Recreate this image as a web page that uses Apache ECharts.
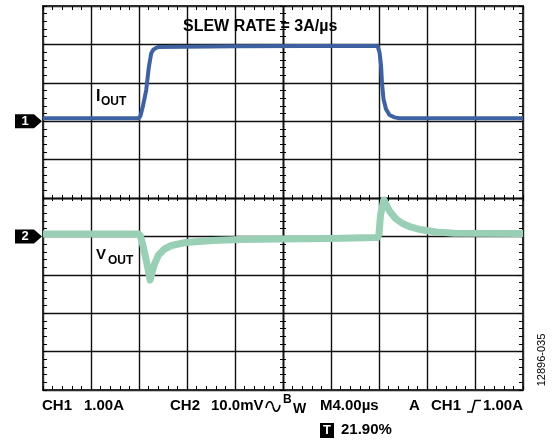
<!DOCTYPE html>
<html><head><meta charset="utf-8">
<script src="https://cdn.jsdelivr.net/npm/echarts@6/dist/echarts.min.js"></script>
<style>html,body{margin:0;padding:0;background:#fff;}#c{width:555px;height:442px;}</style>
</head><body><div id="c"></div>
<script>
// ---- data (time in µs relative to screen centre) ----
const iTimeUs = [-20, -16, -12.02, -11.875, -11.68, -11.4, -11.18, -10.98, -10.79, -10.43, -4, 2, 7.875, 8.04, 8.17, 8.25, 8.375, 8.58, 8.875, 9.29, 9.71, 14, 20];
const iAmps   = [0.075, 0.075, 0.075, 0.14, 0.38, 0.81, 1.41, 1.77, 1.87, 1.93, 1.95, 1.96, 1.96, 1.8, 1.46, 0.99, 0.58, 0.32, 0.16, 0.1, 0.075, 0.075, 0.075];
const vTimeUs = [-20, -16, -12.02, -11.875, -11.68, -11.4, -11.07, -10.92, -10.71, -10.375, -9.875, -9.29, -8.125, -5.875, -3.625, -0.29, 3.875, 7.875, 8.0, 8.125, 8.4, 8.54, 8.875, 9.375, 9.96, 10.625, 11.375, 12.79, 14.29, 20];
const vMilliV = [0.63, 0.6, 0.63, 0.1, -2.24, -6.15, -11.35, -9.5, -7.2, -4.84, -3.28, -2.37, -1.59, -1.07, -0.81, -0.68, -0.55, -0.29, 0.63, 5.57, 9.48, 8.7, 6.6, 4.66, 3.36, 2.45, 1.8, 1.15, 0.81, 0.76];
const ch1 = {offsetDiv: 2, perDiv: 1.0};    // A/div
const ch2 = {offsetDiv: -1, perDiv: 10.0};  // mV/div
const timeRange = [-20, 20], timePerDiv = 4;
const vertRange = [-5, 5];
const titleText = 'SLEW RATE = 3A/µs';
const statusTexts = ['CH1', '1.00A', 'CH2', '10.0mV', 'M4.00µs', 'A', 'CH1', '1.00A', '21.90%'];
const figId = '12896-035';

const FONT = '"Liberation Sans", Arial, sans-serif';
const chart = echarts.init(document.getElementById('c'), null, {renderer: 'canvas'});

const iData = iTimeUs.map((t, k) => [t, iAmps[k] / ch1.perDiv + ch1.offsetDiv]);
const vData = vTimeUs.map((t, k) => [t, vMilliV[k] / ch2.perDiv + ch2.offsetDiv]);

function base(isX) {
  return {type: 'value', min: isX ? timeRange[0] : vertRange[0], max: isX ? timeRange[1] : vertRange[1],
    interval: isX ? timePerDiv : 1, axisLabel: {show: false}, splitLine: {show: false}, minorSplitLine: {show: false}};
}
function borderAxis(isX, pos, split) {
  return Object.assign(base(isX), {position: pos,
    axisLine: {show: true, onZero: false, lineStyle: {color: '#2b2b2b', width: 2}},
    axisTick: {show: true, inside: true, length: 4, lineStyle: {color: '#000', width: 1}},
    minorTick: {show: true, splitNumber: 5, length: 4, lineStyle: {color: '#000', width: 1}},
    splitLine: {show: split, lineStyle: {color: '#111', width: 1.4}}});
}
function centerAxis(isX, pos, inside) {
  return Object.assign(base(isX), {position: pos,
    axisLine: {show: true, onZero: true, lineStyle: {color: '#111', width: 1.4}},
    axisTick: {show: true, inside: inside, length: 3, lineStyle: {color: '#000', width: 1}},
    minorTick: {show: true, splitNumber: 5, length: 3, lineStyle: {color: '#000', width: 1}}});
}

chart.setOption({
  animation: false,
  backgroundColor: '#fff',
  grid: {left: 43, top: 6, width: 480, height: 384, containLabel: false},
  xAxis: [borderAxis(true, 'bottom', true), borderAxis(true, 'top', false), centerAxis(true, 'bottom', true), centerAxis(true, 'top', true)],
  yAxis: [borderAxis(false, 'left', true), borderAxis(false, 'right', false), centerAxis(false, 'left', true), centerAxis(false, 'right', true)],
  series: [
    {type: 'line', name: 'VOUT', data: vData, showSymbol: false, symbol: 'none', z: 3,
      lineStyle: {color: '#98cfb5', width: 7, join: 'round'}},
    {type: 'line', name: 'IOUT', data: iData, showSymbol: false, symbol: 'none', z: 4,
      lineStyle: {color: '#3e61a2', width: 4, join: 'round'}}
  ]
});

const y1 = chart.convertToPixel({yAxisIndex: 0}, ch1.offsetDiv);
const y2 = chart.convertToPixel({yAxisIndex: 0}, ch2.offsetDiv);
function marker(y, label) {
  return [
    {type: 'polygon', shape: {points: [[15, y - 7], [34, y - 7], [42, y], [34, y + 7], [15, y + 7]]}, style: {fill: '#000'}, z: 10},
    {type: 'text', x: 25, y: y, z: 11, style: {text: label, fill: '#fff', fontFamily: FONT, fontWeight: 'bold', fontSize: 13, align: 'center', verticalAlign: 'middle'}}
  ];
}
function txt(x, y, s, size, extra) {
  return Object.assign({type: 'text', x: x, y: y, z: 10,
    style: Object.assign({text: s, fill: '#000', fontFamily: FONT, fontWeight: 'bold', fontSize: size, verticalAlign: 'middle'}, extra || {})});
}
const st = statusTexts;
const waveStyle = {stroke: '#000', lineWidth: 1.6, fill: null};
const g = [].concat(
  marker(y1, '1'), marker(y2, '2'),
  [
    txt(183, 27, titleText, 16),
    txt(96, 97, 'I', 16), txt(101, 102, 'OUT', 12),
    txt(96, 255, 'V', 15), txt(108, 261, 'OUT', 12),
    txt(42, 406, st[0], 15), txt(84, 406, st[1], 15),
    txt(170, 406, st[2], 15), txt(211, 406, st[3], 15),
    {type: 'bezierCurve', z: 10, shape: {x1: 266, y1: 408, cpx1: 267.5, cpy1: 400, cpx2: 271.5, cpy2: 400, x2: 273, y2: 406.5}, style: waveStyle},
    {type: 'bezierCurve', z: 10, shape: {x1: 273, y1: 406.5, cpx1: 274.5, cpy1: 413, cpx2: 278.5, cpy2: 413, x2: 280, y2: 405}, style: waveStyle},
    txt(283, 400, 'B', 12), txt(293, 409.5, 'W', 14),
    txt(320, 406, st[4], 15),
    txt(409, 406, st[5], 15), txt(431, 406, st[6], 15),
    {type: 'polyline', z: 10, shape: {points: [[467, 412], [472, 412], [475, 400.5], [481, 400.5]]}, style: {stroke: '#000', lineWidth: 1.6, fill: null}},
    txt(483, 406, st[7], 15),
    {type: 'rect', z: 10, shape: {x: 320, y: 423, width: 14, height: 15}, style: {fill: '#000'}},
    txt(327, 430.5, 'T', 13, {fill: '#fff', align: 'center'}),
    txt(341, 430, st[8], 15),
    {type: 'text', x: 542, y: 360, rotation: Math.PI / 2, z: 10,
      style: {text: figId, fill: '#000', fontFamily: FONT, fontSize: 11, align: 'center', verticalAlign: 'middle'}}
  ]
);
chart.setOption({graphic: g});
</script></body></html>
